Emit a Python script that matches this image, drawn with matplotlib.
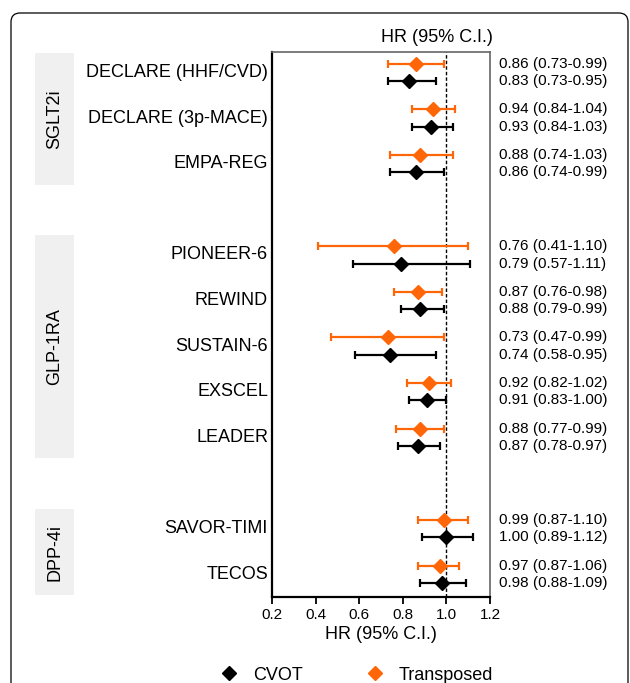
import matplotlib.pyplot as plt
import matplotlib.transforms as mtransforms
from matplotlib.patches import Rectangle, FancyBboxPatch
from matplotlib.lines import Line2D

plt.rcParams['font.family'] = ['Liberation Sans', 'DejaVu Sans']

# Data ---------------------------------------------------------------
trials = ["DECLARE (HHF/CVD)", "DECLARE (3p-MACE)", "EMPA-REG",
          "PIONEER-6", "REWIND", "SUSTAIN-6", "EXSCEL", "LEADER",
          "SAVOR-TIMI", "TECOS"]
slots = [0, 1, 2, 4, 5, 6, 7, 8, 10, 11]
groups = ["SGLT2i", "GLP-1RA", "DPP-4i"]
group_slots = [(0, 2), (4, 8), (10, 11)]

cvot_hr = [0.83, 0.93, 0.86, 0.79, 0.88, 0.74, 0.91, 0.87, 1.00, 0.98]
cvot_lo = [0.73, 0.84, 0.74, 0.57, 0.79, 0.58, 0.83, 0.78, 0.89, 0.88]
cvot_hi = [0.95, 1.03, 0.99, 1.11, 0.99, 0.95, 1.00, 0.97, 1.12, 1.09]

trans_hr = [0.86, 0.94, 0.88, 0.76, 0.87, 0.73, 0.92, 0.88, 0.99, 0.97]
trans_lo = [0.73, 0.84, 0.74, 0.41, 0.76, 0.47, 0.82, 0.77, 0.87, 0.87]
trans_hi = [0.99, 1.04, 1.03, 1.10, 0.98, 0.99, 1.02, 0.99, 1.10, 1.06]

x_ticks = [0.2, 0.4, 0.6, 0.8, 1.0, 1.2]

orange = "#ff6608"
off = 0.19

fig = plt.figure(figsize=(6.3, 6.83), dpi=100)
ax = fig.add_axes([272 / 630, 1 - 597 / 683, 218 / 630, 545 / 683])

# outer rounded frame (inches)
frame = FancyBboxPatch((0.11, -0.5), 6.17, 7.2, transform=fig.dpi_scale_trans,
                       boxstyle="round,pad=0,rounding_size=0.09",
                       fc="none", ec="black", lw=0.9, zorder=0)
fig.patches.append(frame)

y_cvot = [s + off for s in slots]
y_trans = [s - off for s in slots]

eb = dict(fmt="D", ms=7.5, capsize=2.8, elinewidth=1.6, capthick=1.6, zorder=3)
ax.errorbar(trans_hr, y_trans,
            xerr=[[h - l for h, l in zip(trans_hr, trans_lo)],
                  [u - h for h, u in zip(trans_hr, trans_hi)]],
            color=orange, **eb)
ax.errorbar(cvot_hr, y_cvot,
            xerr=[[h - l for h, l in zip(cvot_hr, cvot_lo)],
                  [u - h for h, u in zip(cvot_hr, cvot_hi)]],
            color="black", **eb)

ax.axvline(1.0, color="black", ls=(0, (2.5, 1.5)), lw=1.0, zorder=1)

ax.set_xlim(0.2, 1.2)
ax.set_ylim(11.5, -0.45)
ax.set_xticks(x_ticks)
ax.set_xticklabels([f"{t:.1f}" for t in x_ticks], fontsize=11)
ax.set_yticks([])
ax.tick_params(axis="x", direction="out", length=5, width=1.3, pad=3)
ax.set_xlabel("HR (95% C.I.)", fontsize=13, labelpad=3)
for side in ["left", "bottom"]:
    ax.spines[side].set_linewidth(1.6)
    ax.spines[side].set_color("black")
for side in ["top", "right"]:
    ax.spines[side].set_linewidth(1.2)
    ax.spines[side].set_color("#666666")

fig.text(437 / 630, 1 - 37 / 683, "HR (95% C.I.)", ha="center", va="center",
         fontsize=13)

tr = mtransforms.blended_transform_factory(ax.transAxes, ax.transData)
for name, s in zip(trials, slots):
    ax.text(-0.018, s, name, transform=tr, ha="right", va="center",
            fontsize=13)

for i, s in enumerate(slots):
    ax.text(1.041, s - off, f"{trans_hr[i]:.2f} ({trans_lo[i]:.2f}-{trans_hi[i]:.2f})",
            transform=tr, ha="left", va="center", fontsize=11)
    ax.text(1.041, s + off, f"{cvot_hr[i]:.2f} ({cvot_lo[i]:.2f}-{cvot_hi[i]:.2f})",
            transform=tr, ha="left", va="center", fontsize=11)

# group boxes
trg = mtransforms.blended_transform_factory(fig.transFigure, ax.transData)
for g, (a, b) in zip(groups, group_slots):
    y0, y1 = a - 0.43, b + 0.46
    ax.add_patch(Rectangle((35 / 630, y0), 39 / 630, y1 - y0, transform=trg,
                           fc="#f0f0f0", ec="none", clip_on=False, zorder=0))
    ax.text(55 / 630, (y0 + y1) / 2, g, transform=trg, rotation=90,
            ha="center", va="center", fontsize=13, clip_on=False)

handles = [Line2D([], [], marker="D", color="black", ls="none", ms=7.5),
           Line2D([], [], marker="D", color=orange, ls="none", ms=7.5)]
fig.legend(handles, ["CVOT", "Transposed"], loc="center",
           bbox_to_anchor=(0.566, 1 - 675 / 683), ncol=2, frameon=False,
           fontsize=13, columnspacing=3.5, handlelength=1.0,
           handletextpad=0.8, borderpad=0, borderaxespad=0)

fig.savefig("out.png", dpi=100)
